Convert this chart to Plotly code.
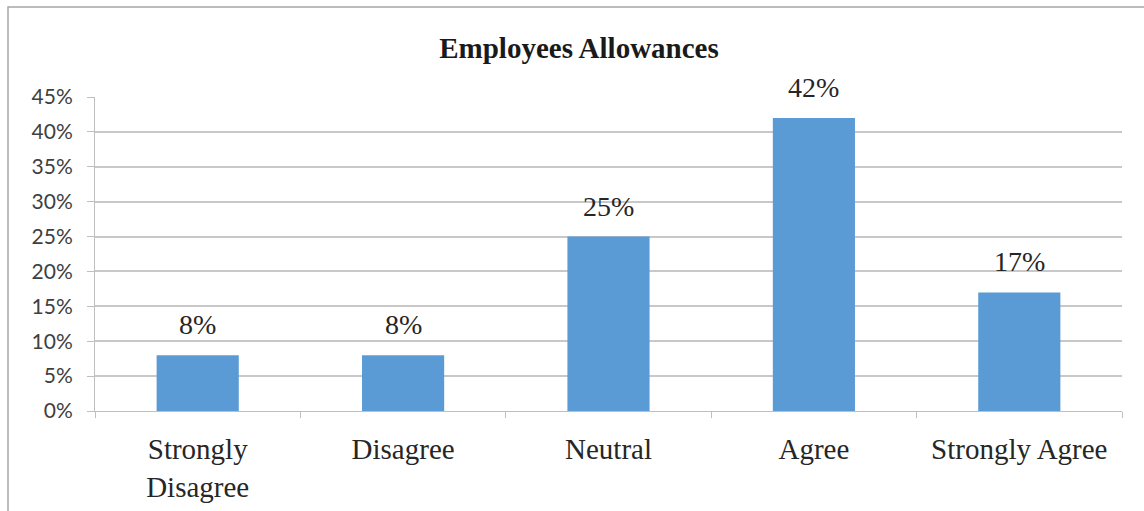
import plotly.graph_objects as go

# Survey responses on employee allowances
categories = ["Strongly<br>Disagree", "Disagree", "Neutral", "Agree", "Strongly Agree"]
shares = [8, 8, 25, 42, 17]  # percent of respondents
y_ticks = [0, 5, 10, 15, 20, 25, 30, 35, 40, 45]
y_tick_labels = [f"{v}%" for v in y_ticks]

W, H = 1144, 511
L, R, T, B = 95, 22, 97, 100
pw, ph = W - L - R, H - T - B

fig = go.Figure(
    go.Bar(
        x=categories,
        y=shares,
        marker=dict(color="#5B9BD5", line=dict(width=0)),
        width=0.4,
        hoverinfo="skip",
    )
)

# Value labels above each bar
for cat, val in zip(categories, shares):
    fig.add_annotation(
        x=cat, y=val, text=f"{val}%", showarrow=False,
        yanchor="bottom", yshift=13,
        font=dict(family="Liberation Serif", size=28, color="#262626"),
    )

# Chart frame (left and top edges visible)
fig.add_shape(
    type="rect", xref="paper", yref="paper",
    x0=(8 - L) / pw, x1=(W + 20 - L) / pw,
    y0=-(H + 20 - T - ph) / ph, y1=1 + (T - 7) / ph,
    line=dict(color="#A6A6A6", width=1.5), fillcolor="rgba(0,0,0,0)",
    layer="below",
)

fig.update_layout(
    width=W, height=H,
    margin=dict(l=L, r=R, t=T, b=B),
    paper_bgcolor="white", plot_bgcolor="white",
    showlegend=False,
    title=dict(
        text="<b>Employees Allowances</b>",
        x=579 / W, xanchor="center",
        y=1 - 48 / H, yanchor="middle",
        font=dict(family="Liberation Serif", size=29, color="#1a1a1a"),
    ),
    bargap=0.6,
)

fig.update_xaxes(
    type="category", automargin=False,
    showline=True, linecolor="#BFBFBF", linewidth=1,
    ticks="outside", tickson="boundaries", ticklen=6, tickcolor="#BFBFBF",
    ticklabelstandoff=12,
    tickfont=dict(family="Liberation Serif", size=29, color="#262626"),
    showgrid=False,
)
fig.update_yaxes(
    range=[0, 45], automargin=False,
    tickvals=y_ticks, ticktext=y_tick_labels,
    showline=True, linecolor="#BFBFBF", linewidth=1,
    ticks="outside", ticklen=7, tickcolor="#BFBFBF",
    ticklabelstandoff=10,
    tickfont=dict(family="Lato", size=21, color="#404040"),
    showgrid=True, gridcolor="#C8C8C8", gridwidth=1.5,
    zeroline=False,
)

fig.write_html("out.html")
